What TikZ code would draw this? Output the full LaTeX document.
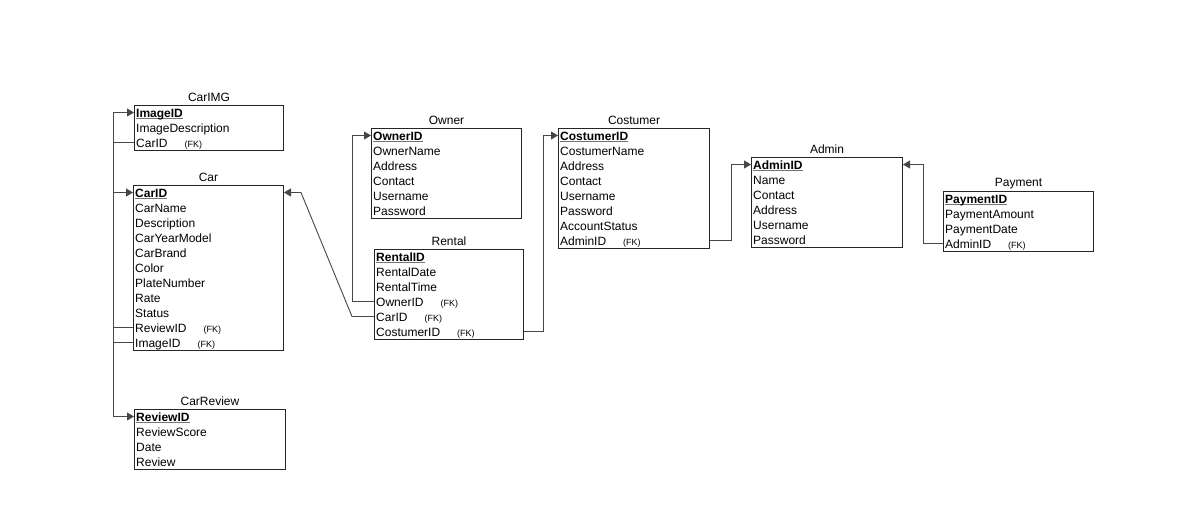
\documentclass[tikz,border=0pt]{standalone}
\usepackage{fontspec}
\setmainfont{Liberation Sans}
\usetikzlibrary{arrows.meta,calc}

% primary key (bold, grey underline) and foreign key markers
\newsavebox\pkeybox
\newcommand\pkey[1]{\sbox\pkeybox{\textbf{#1}}\rlap{\smash{\color{black!55}\rule[-2.4pt]{\wd\pkeybox}{1.1pt}}}\usebox\pkeybox}
\newcommand\fkey{\hspace{17pt}{\fontsize{9}{10}\selectfont(FK)}}

% entity: name, x, y (top left), width, number of rows, title, rows
\newcommand\makeentity[7]{%
  \node[tblbox, minimum width=#4, minimum height=#5*15] (#1) at (#2,#3) {};
  \node[tbltitle] (#1-title) at ([yshift=7.5pt]#1.north) {#6};
  \foreach \t [count=\i] in {#7}
    \node[tblrow] (#1-\i) at ([xshift=2pt,yshift={-7.5pt-15pt*(\i-1)}]#1.north west) {\t};
}

\begin{document}
\begin{tikzpicture}[x=1pt,y=-1pt,
  tblbox/.style={draw=black!85, line width=1pt, anchor=north west, inner sep=0pt, fill=white},
  tbltitle/.style={inner sep=0pt, font=\fontsize{12}{14}\selectfont},
  tblrow/.style={anchor=west, inner sep=0pt, text height=12pt, text depth=3pt, font=\fontsize{12}{14}\selectfont},
  conn/.style={draw=black!72, line width=0.9pt, -{Triangle[length=7pt,width=8pt]}}]
\useasboundingbox[fill=white] (0,0) rectangle (1191,509);

\makeentity{carimg}{134}{105}{149}{3}{CarIMG}{\pkey{ImageID}, ImageDescription, CarID\fkey}
\makeentity{car}{133}{185}{150}{11}{Car}{\pkey{CarID}, CarName, Description, CarYearModel, CarBrand, Color, PlateNumber, Rate, Status, ReviewID\fkey, ImageID\fkey}
\makeentity{carreview}{134}{409}{151}{4}{CarReview}{\pkey{ReviewID}, ReviewScore, Date, Review}
\makeentity{owner}{371}{128}{150}{6}{Owner}{\pkey{OwnerID}, OwnerName, Address, Contact, Username, Password}
\makeentity{rental}{374}{249}{149}{6}{Rental}{\pkey{RentalID}, RentalDate, RentalTime, OwnerID\fkey, CarID\fkey, CostumerID\fkey}
\makeentity{costumer}{558}{128}{151}{8}{Costumer}{\pkey{CostumerID}, CostumerName, Address, Contact, Username, Password, AccountStatus, AdminID\fkey}
\makeentity{admin}{751}{157}{151}{6}{Admin}{\pkey{AdminID}, Name, Contact, Address, Username, Password}
\makeentity{payment}{943}{191}{150}{4}{Payment}{\pkey{PaymentID}, PaymentAmount, PaymentDate, AdminID\fkey}

% relationships
\draw[conn] (carimg.west |- carimg-3) -- ++(-21,0) |- (car.west |- car-1);
\draw[conn] (car.west |- car-11) -- ++(-20,0) |- (carimg.west |- carimg-1);
\draw[conn] (car.west |- car-10) -- ++(-20,0) |- (carreview.west |- carreview-1);
\draw[conn] (rental.west |- rental-5) -- ++(-22,0) -- ($(car.east |- car-1)+(17,0)$) -- (car.east |- car-1);
\draw[conn] (rental.west |- rental-4) -- ++(-22,0) |- (owner.west |- owner-1);
\draw[conn] (rental.east |- rental-6) -- ++(19,0) |- (costumer.west |- costumer-1);
\draw[conn] (costumer.east |- costumer-8) -- ++(21,0) |- (admin.west |- admin-1);
\draw[conn] (payment.west |- payment-4) -- ++(-20,0) |- (admin.east |- admin-1);
\end{tikzpicture}
\end{document}
